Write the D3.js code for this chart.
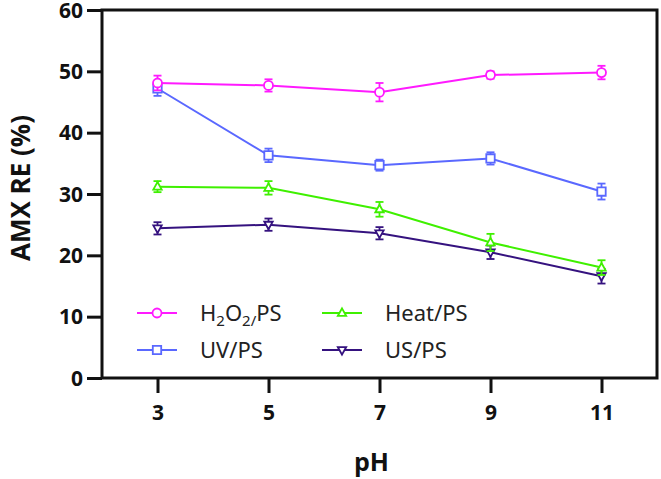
<!DOCTYPE html>
<html>
<head>
<meta charset="utf-8">
<script src="https://cdn.jsdelivr.net/npm/d3@7"></script>
<style>
  body { margin: 0; background: #fff; }
  svg { display: block; }
</style>
</head>
<body>
<svg id="chart" width="661" height="479"></svg>
<script>
// Dades
const phValues = [3, 5, 7, 9, 11];
const yTicks = [0, 10, 20, 30, 40, 50, 60];

const h2o2Values = [48.1, 47.7, 46.6, 49.4, 49.8];
const h2o2Errors = [1.2, 1.0, 1.5, 0.6, 1.1];
const uvValues = [47.2, 36.3, 34.7, 35.8, 30.4];
const uvErrors = [1.2, 1.1, 0.9, 1.0, 1.3];
const heatValues = [31.2, 31.0, 27.5, 22.1, 18.0];
const heatErrors = [0.9, 1.1, 1.2, 1.4, 1.2];
const usValues = [24.4, 25.0, 23.6, 20.5, 16.6];
const usErrors = [1.0, 1.0, 1.0, 1.1, 1.2];

const series = [
  { name: "H2O2/PS", values: h2o2Values, errors: h2o2Errors, color: "#ff1aff", symbol: "circle" },
  { name: "UV/PS", values: uvValues, errors: uvErrors, color: "#5a68ff", symbol: "square" },
  { name: "Heat/PS", values: heatValues, errors: heatErrors, color: "#3ff000", symbol: "up" },
  { name: "US/PS", values: usValues, errors: usErrors, color: "#35127f", symbol: "down" }
];

const margin = { top: 10, right: 4, bottom: 101, left: 102 },
      width = 661 - margin.left - margin.right,
      height = 479 - margin.top - margin.bottom;

const svg = d3.select("#chart")
  .append("g")
  .attr("transform", `translate(${margin.left},${margin.top})`);

const x = d3.scaleLinear().domain([2, 12]).range([0, width]);
const y = d3.scaleLinear().domain([0, 60]).range([height, 0]);

// Eixos
const axisFont = "'Open Sans', sans-serif";

const yAxis = svg.append("g")
  .call(d3.axisLeft(y).tickValues(yTicks).tickSize(15).tickPadding(4));
const xAxis = svg.append("g")
  .attr("transform", `translate(0,${height})`)
  .call(d3.axisBottom(x).tickValues(phValues).tickSize(15).tickPadding(12));

[yAxis, xAxis].forEach(g => {
  g.select(".domain").remove();
  g.selectAll(".tick line").attr("stroke", "#111").attr("stroke-width", 3);
  g.selectAll(".tick text")
    .attr("font-family", axisFont)
    .attr("font-weight", 700)
    .attr("font-size", "21px")
    .attr("fill", "#111");
});
yAxis.selectAll(".tick text").attr("dy", "0.34em");

// Marc
svg.append("rect")
  .attr("x", 0).attr("y", 0)
  .attr("width", width).attr("height", height)
  .attr("fill", "none")
  .attr("stroke", "#111")
  .attr("stroke-width", 3);

// Símbols
function symbolPath(sym, size) {
  const s = size;
  if (sym === "circle") return null;
  if (sym === "square") return `M${-s},${-s}H${s}V${s}H${-s}Z`;
  if (sym === "up") return `M0,${-s * 1.1}L${s},${s * 0.7}H${-s}Z`;
  return `M0,${s * 1.1}L${s},${-s * 0.7}H${-s}Z`;
}

function drawMarker(g, sym, color, cx, cy) {
  if (sym === "circle") {
    g.append("circle").attr("cx", cx).attr("cy", cy).attr("r", 4.5)
      .attr("fill", "#fff").attr("stroke", color).attr("stroke-width", 1.8);
  } else {
    g.append("path").attr("d", symbolPath(sym, 4.2))
      .attr("transform", `translate(${cx},${cy})`)
      .attr("fill", "#fff").attr("stroke", color).attr("stroke-width", 1.8);
  }
}

const line = d3.line().x((d, i) => x(phValues[i])).y(d => y(d));

// Línies, barres d'error i marcadors (ordre invers per tenir magenta a sobre)
series.slice().reverse().forEach(s => {
  const g = svg.append("g");
  g.append("path")
    .datum(s.values)
    .attr("d", line)
    .attr("fill", "none")
    .attr("stroke", s.color)
    .attr("stroke-width", 2);

  s.values.forEach((v, i) => {
    const cx = x(phValues[i]);
    const y1 = y(v + s.errors[i]), y2 = y(v - s.errors[i]);
    g.append("line").attr("x1", cx).attr("x2", cx).attr("y1", y1).attr("y2", y2)
      .attr("stroke", s.color).attr("stroke-width", 1.8);
    [y1, y2].forEach(yy => {
      g.append("line").attr("x1", cx - 4).attr("x2", cx + 4).attr("y1", yy).attr("y2", yy)
        .attr("stroke", s.color).attr("stroke-width", 1.8);
    });
    drawMarker(g, s.symbol, s.color, cx, y(v));
  });
});

// Llegenda
const legendFont = "'Noto Sans', sans-serif";
const legendPos = [
  { lx: 35, ly: 303 },
  { lx: 35, ly: 340 },
  { lx: 220, ly: 303 },
  { lx: 220, ly: 340 }
];
series.forEach((s, i) => {
  const p = legendPos[i];
  const g = svg.append("g").attr("transform", `translate(${p.lx},${p.ly})`);
  g.append("line").attr("x1", 0).attr("x2", 40).attr("y1", 0).attr("y2", 0)
    .attr("stroke", s.color).attr("stroke-width", 2);
  drawMarker(g, s.symbol, s.color, 20, 0);
  const t = g.append("text")
    .attr("x", 63).attr("y", 8)
    .attr("font-family", legendFont)
    .attr("font-size", "22px")
    .attr("fill", "#222");
  if (s.name === "H2O2/PS") {
    t.append("tspan").text("H");
    t.append("tspan").attr("font-size", "15px").attr("dy", 5).text("2");
    t.append("tspan").attr("dy", -5).text("O");
    t.append("tspan").attr("font-size", "15px").attr("dy", 5).text("2/");
    t.append("tspan").attr("dy", -5).text("PS");
  } else {
    t.text(s.name);
  }
});

// Títols d'eixos
svg.append("text")
  .attr("x", width / 2 - 8)
  .attr("y", height + 93)
  .attr("text-anchor", "middle")
  .attr("font-family", axisFont)
  .attr("font-weight", 700)
  .attr("font-size", "25px")
  .attr("fill", "#111")
  .text("pH");

svg.append("text")
  .attr("transform", "rotate(-90)")
  .attr("x", -(height / 2 - 6))
  .attr("y", -72)
  .attr("text-anchor", "middle")
  .attr("font-family", axisFont)
  .attr("font-weight", 700)
  .attr("font-size", "26px")
  .attr("fill", "#111")
  .text("AMX RE (%)");
</script>
</body>
</html>
